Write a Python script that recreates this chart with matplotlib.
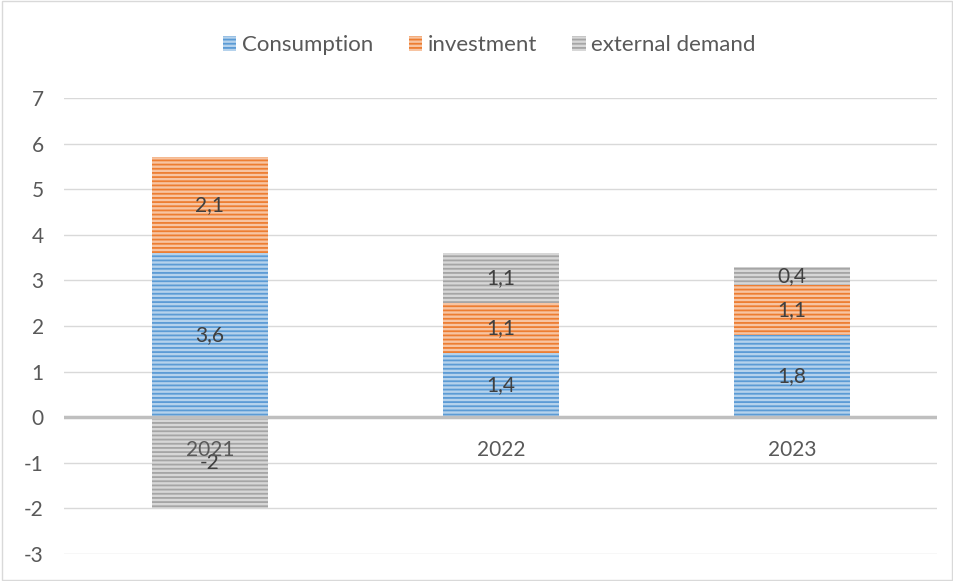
import matplotlib.pyplot as plt
from matplotlib.patches import Rectangle
import matplotlib.colors as mcolors
import numpy as np

years = ["2021", "2022", "2023"]
consumption = [3.6, 1.4, 1.8]
investment = [2.1, 1.1, 1.1]
external = [-2.0, 1.1, 0.4]

series = [("Consumption", consumption, "#5B9BD5"),
          ("investment", investment, "#ED7D31"),
          ("external demand", external, "#A5A5A5")]

plt.rcParams["font.family"] = ["Lato", "DejaVu Sans"]
plt.rcParams["hatch.linewidth"] = 1.3
plt.rcParams["axes.unicode_minus"] = False
text_col = "#595959"


def light(c, f=0.55):
    r, g, b = mcolors.to_rgb(c)
    return (r + (1 - r) * f, g + (1 - g) * f, b + (1 - b) * f)


fig = plt.figure(figsize=(9.54, 5.81), dpi=100)
ax = fig.add_axes([0.0676, 0.0465, 0.9151, 0.7848])

x = np.arange(len(years))
pos_base = np.zeros(len(years))
neg_base = np.zeros(len(years))
handles = []
for name, vals, col in series:
    vals = np.array(vals)
    bottoms = np.where(vals >= 0, pos_base, neg_base)
    bars = ax.bar(x, vals, 0.4, bottom=bottoms, facecolor=light(col),
                  edgecolor=col, hatch="----", linewidth=0, label=name, zorder=3)
    for xi, v, b in zip(x, vals, bottoms):
        ax.text(xi, b + v / 2, f"{v:g}".replace(".", ","), ha="center", va="center",
                fontsize=15, color="#404040", zorder=5)
    pos_base += np.where(vals >= 0, vals, 0)
    neg_base += np.where(vals < 0, vals, 0)
    handles.append(bars)

ax.set_xlim(-0.5, 2.5)
ax.set_ylim(-3, 7)
ax.set_yticks(range(-3, 8))
ax.yaxis.grid(True, color="#D9D9D9", linewidth=1, zorder=0)
ax.axhline(0, color="#BFBFBF", linewidth=2.5, zorder=4)
for s in ax.spines.values():
    s.set_visible(False)
ax.tick_params(axis="y", length=0, labelsize=15, labelcolor=text_col, pad=15)
ax.set_xticks([])
for xi, yr in zip(x, years):
    ax.text(xi, -0.72, yr, ha="center", va="center", fontsize=15, color=text_col, zorder=6)

leg = fig.legend(handles=handles, loc="center", bbox_to_anchor=(0.513, 0.922), ncol=3,
                 frameon=False, fontsize=16, handlelength=0.6, handleheight=0.6,
                 handletextpad=0.25, columnspacing=1.6)
for t in leg.get_texts():
    t.set_color(text_col)

fig.patches.append(Rectangle((0.002, 0.002), 0.996, 0.996, transform=fig.transFigure,
                             fill=False, edgecolor="#D9D9D9", linewidth=1))

fig.savefig("out.png", dpi=100)
